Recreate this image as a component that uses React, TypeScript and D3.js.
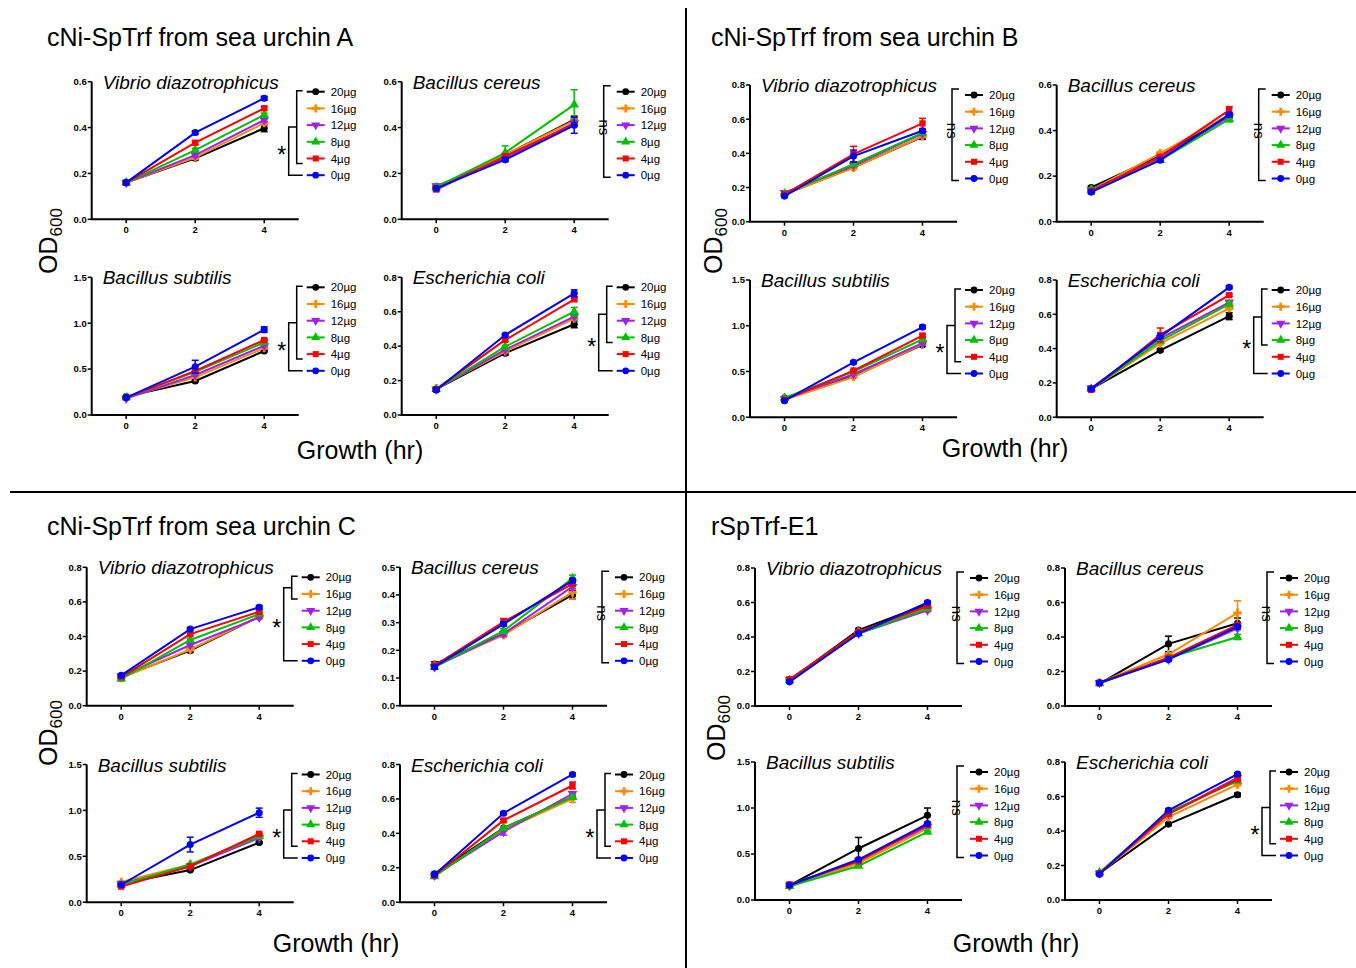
import React from "react";
import * as d3 from "d3";

// ---------- data ----------
const doses = ["20µg", "16µg", "12µg", "8µg", "4µg", "0µg"];
const hours = [0, 2, 4];
const xTickValues = [0, 2, 4];
const bacteria = ["Vibrio diazotrophicus", "Bacillus cereus", "Bacillus subtilis", "Escherichia coli"];
const quadrantTitles = ["cNi-SpTrf from sea urchin A", "cNi-SpTrf from sea urchin B", "cNi-SpTrf from sea urchin C", "rSpTrf-E1"];

// rows: 20,16,12,8,4,0 µg ; columns: 0h, 2h, 4h
const A_vibrio = [[0.16, 0.266, 0.397], [0.16, 0.27, 0.42], [0.16, 0.28, 0.433], [0.16, 0.302, 0.455], [0.16, 0.334, 0.484], [0.16, 0.378, 0.528]];
const A_cereus = [[0.14, 0.28, 0.435], [0.14, 0.28, 0.43], [0.145, 0.265, 0.42], [0.14, 0.29, 0.5], [0.13, 0.275, 0.415], [0.135, 0.26, 0.41]];
const A_subtilis = [[0.2, 0.37, 0.697], [0.19, 0.41, 0.73], [0.18, 0.436, 0.755], [0.19, 0.47, 0.79], [0.19, 0.48, 0.817], [0.19, 0.526, 0.93]];
const A_coli = [[0.15, 0.359, 0.527], [0.155, 0.37, 0.56], [0.15, 0.38, 0.572], [0.15, 0.397, 0.6], [0.15, 0.436, 0.672], [0.145, 0.465, 0.707]];

const B_vibrio = [[0.16, 0.318, 0.497], [0.16, 0.315, 0.5], [0.17, 0.33, 0.515], [0.165, 0.337, 0.52], [0.16, 0.396, 0.575], [0.15, 0.384, 0.532]];
const B_cereus = [[0.15, 0.29, 0.465], [0.14, 0.3, 0.47], [0.14, 0.28, 0.46], [0.14, 0.27, 0.45], [0.135, 0.285, 0.49], [0.13, 0.27, 0.47]];
const B_subtilis = [[0.21, 0.45, 0.79], [0.19, 0.44, 0.8], [0.2, 0.47, 0.81], [0.21, 0.5, 0.85], [0.19, 0.51, 0.893], [0.18, 0.6, 0.985]];
const B_coli = [[0.165, 0.39, 0.589], [0.165, 0.43, 0.635], [0.17, 0.46, 0.67], [0.165, 0.445, 0.66], [0.16, 0.48, 0.712], [0.165, 0.47, 0.757]];

const C_vibrio = [[0.165, 0.318, 0.515], [0.16, 0.325, 0.515], [0.17, 0.351, 0.51], [0.155, 0.38, 0.53], [0.165, 0.414, 0.543], [0.175, 0.443, 0.569]];
const C_cereus = [[0.15, 0.26, 0.4], [0.145, 0.255, 0.41], [0.14, 0.26, 0.43], [0.14, 0.27, 0.46], [0.145, 0.303, 0.44], [0.14, 0.295, 0.452]];
const C_subtilis = [[0.2, 0.35, 0.65], [0.22, 0.41, 0.72], [0.2, 0.39, 0.7], [0.19, 0.41, 0.72], [0.17, 0.39, 0.745], [0.19, 0.628, 0.975]];
const C_coli = [[0.165, 0.43, 0.61], [0.155, 0.42, 0.6], [0.155, 0.41, 0.63], [0.15, 0.43, 0.61], [0.155, 0.475, 0.678], [0.16, 0.517, 0.742]];

const D_vibrio = [[0.15, 0.44, 0.59], [0.15, 0.43, 0.575], [0.15, 0.42, 0.555], [0.15, 0.42, 0.565], [0.155, 0.43, 0.58], [0.14, 0.42, 0.6]];
const D_cereus = [[0.13, 0.36, 0.48], [0.135, 0.3, 0.54], [0.135, 0.27, 0.45], [0.13, 0.28, 0.4], [0.135, 0.28, 0.47], [0.135, 0.27, 0.46]];
const D_subtilis = [[0.16, 0.56, 0.92], [0.15, 0.4, 0.78], [0.16, 0.43, 0.8], [0.15, 0.37, 0.74], [0.17, 0.42, 0.82], [0.16, 0.44, 0.83]];
const D_coli = [[0.155, 0.44, 0.61], [0.155, 0.48, 0.67], [0.155, 0.5, 0.71], [0.16, 0.51, 0.69], [0.155, 0.5, 0.7], [0.15, 0.52, 0.73]];

// visible error bars: [dose index, time index, SEM]
const baseError = 0.008;
const A_vibrio_err = [[0, 2, 0.015]];
const A_cereus_err = [[3, 1, 0.03], [3, 2, 0.065], [5, 2, 0.035], [0, 2, 0.015]];
const A_subtilis_err = [[5, 1, 0.07], [5, 2, 0.03]];
const A_coli_err = [[5, 2, 0.02], [3, 2, 0.025], [0, 2, 0.02], [0, 1, 0.012]];
const B_vibrio_err = [[4, 1, 0.045], [4, 2, 0.03], [5, 1, 0.035], [0, 2, 0.015]];
const B_cereus_err = [[4, 2, 0.015], [3, 2, 0.012]];
const B_subtilis_err = [[5, 2, 0.02], [5, 1, 0.015], [4, 2, 0.015]];
const B_coli_err = [[4, 1, 0.04], [0, 2, 0.02], [3, 2, 0.012]];
const C_vibrio_err = [[5, 2, 0.01]];
const C_cereus_err = [[1, 2, 0.025], [0, 2, 0.015], [3, 2, 0.012], [4, 1, 0.012]];
const C_subtilis_err = [[5, 1, 0.08], [5, 2, 0.05]];
const C_coli_err = [[4, 2, 0.02], [1, 2, 0.02], [2, 1, 0.02]];
const D_vibrio_err: number[][] = [];
const D_cereus_err = [[0, 1, 0.045], [1, 2, 0.07], [0, 2, 0.03], [3, 2, 0.015]];
const D_subtilis_err = [[0, 1, 0.12], [0, 2, 0.08]];
const D_coli_err = [[3, 1, 0.02], [0, 2, 0.01]];

// y-axis maxima and tick steps
const yMaxes = [[0.6, 0.6, 1.5, 0.8], [0.8, 0.6, 1.5, 0.8], [0.8, 0.5, 1.5, 0.8], [0.8, 0.8, 1.5, 0.8]];
const ySteps = [[0.2, 0.2, 0.5, 0.2], [0.2, 0.2, 0.5, 0.2], [0.2, 0.1, 0.5, 0.2], [0.2, 0.2, 0.5, 0.2]];
// significance: "ns" or index of last dose in the compared group (vs 0µg)
const significance: (string | number)[][] = [[4, "ns", 4, 3], ["ns", "ns", 4, 3], [1, "ns", 4, 4], ["ns", "ns", "ns", 4]];

const allValues = [[A_vibrio, A_cereus, A_subtilis, A_coli], [B_vibrio, B_cereus, B_subtilis, B_coli], [C_vibrio, C_cereus, C_subtilis, C_coli], [D_vibrio, D_cereus, D_subtilis, D_coli]];
const allErrors = [[A_vibrio_err, A_cereus_err, A_subtilis_err, A_coli_err], [B_vibrio_err, B_cereus_err, B_subtilis_err, B_coli_err], [C_vibrio_err, C_cereus_err, C_subtilis_err, C_coli_err], [D_vibrio_err, D_cereus_err, D_subtilis_err, D_coli_err]];

// ---------- styles / layout ----------
const colors = ["#000000", "#FF8A00", "#A020F0", "#00C000", "#FF0000", "#0000FF"];
const symbols = [d3.symbolCircle, d3.symbolCross, d3.symbolTriangle, d3.symbolTriangle, d3.symbolSquare, d3.symbolCircle];
const symbolRot = [0, 0, 180, 0, 0, 0];
const FONT = "'Liberation Sans', Arial, Helvetica, sans-serif";

const quadLayout = [
  { cols: [91.7, 401.7], rows: [[81.7, 219.3], [277.3, 415]], title: [47, 46], od: [57, 241], growth: [360, 459] },
  { cols: [750, 1056.7], rows: [[85, 221.7], [280, 417.2]], title: [711, 46], od: [722, 241], growth: [1005, 457] },
  { cols: [86.7, 400], rows: [[567.3, 705.7], [764.5, 902.2]], title: [47, 535], od: [57, 733], growth: [336, 952] },
  { cols: [755, 1065], rows: [[568, 706], [762, 900]], title: [711, 535], od: [725, 728], growth: [1016, 952] },
];

function SubPlot({ q, k }: { q: number; k: number }) {
  const L = quadLayout[q];
  const x0 = L.cols[k % 2];
  const [top, bottom] = L.rows[Math.floor(k / 2)];
  const values = allValues[q][k];
  const errs = allErrors[q][k];
  const yMax = yMaxes[q][k];
  const step = ySteps[q][k];
  const sig = significance[q][k];

  const xs = d3.scaleLinear().domain([-1, 5]).range([x0, x0 + 207]);
  const ys = d3.scaleLinear().domain([0, yMax]).range([bottom, top]);
  const yTicks = d3.range(0, yMax + 1e-9, step);
  const fmt = d3.format(".1f");
  const line = d3.line<number>().x((_, i) => xs(hours[i])).y((v) => ys(v));
  const errOf = (s: number, t: number) => {
    const e = errs.find((r) => r[0] === s && r[1] === t);
    return e ? e[2] : baseError;
  };

  const rowY = (i: number) => top + 10 + i * 16.7;
  const legX1 = x0 + 215;
  const legX2 = x0 + 233;

  const sym = (i: number, size: number) => d3.symbol().type(symbols[i]).size(size)() as string;

  let sigEls: React.ReactNode = null;
  if (sig === "ns") {
    const bx = x0 + 202;
    const y1 = rowY(0) - 6;
    const y2 = rowY(5) + 2;
    sigEls = (
      <g>
        <path d={`M${x0 + 209},${y1}H${bx}V${y2}H${x0 + 209}`} fill="none" stroke="#000" strokeWidth={1.5} />
        <text transform={`translate(${bx - 5},${(y1 + y2) / 2 - 4}) rotate(90)`} textAnchor="middle" fontSize={15} fontFamily={FONT}>ns</text>
      </g>
    );
  } else {
    const kk = sig as number;
    const x1 = x0 + 205;
    const arm = x0 + 211;
    const t1 = rowY(0) - 1;
    const b1 = rowY(kk) + 5;
    const x2 = x1 - 8;
    const mid = (t1 + b1) / 2;
    const b2 = rowY(5);
    sigEls = (
      <g>
        <path d={`M${arm},${t1}H${x1}V${b1}H${arm}`} fill="none" stroke="#000" strokeWidth={1.5} />
        <path d={`M${x1},${mid}H${x2}V${b2}H${arm}`} fill="none" stroke="#000" strokeWidth={1.5} />
        <text x={x2 - 7} y={(mid + b2) / 2 + 12} textAnchor="middle" fontSize={23} fontFamily={FONT}>*</text>
      </g>
    );
  }

  return (
    <g>
      {/* title */}
      <text x={x0 + 11} y={top + 7} fontSize={19} fontStyle="italic" fontFamily={FONT}>{bacteria[k]}</text>
      {/* axes */}
      <path d={`M${x0},${top}V${bottom}H${x0 + 207}`} fill="none" stroke="#000" strokeWidth={2} />
      {yTicks.map((t) => (
        <g key={"y" + t}>
          <line x1={x0 - 4} x2={x0} y1={ys(t)} y2={ys(t)} stroke="#000" strokeWidth={1.5} />
          <text x={x0 - 5} y={ys(t)} dy="0.35em" textAnchor="end" fontSize={9.5} fontWeight="bold" fontFamily={FONT}>{fmt(t)}</text>
        </g>
      ))}
      {xTickValues.map((t) => (
        <g key={"x" + t}>
          <line x1={xs(t)} x2={xs(t)} y1={bottom} y2={bottom + 4} stroke="#000" strokeWidth={1.5} />
          <text x={xs(t)} y={bottom + 14} textAnchor="middle" fontSize={9.5} fontWeight="bold" fontFamily={FONT}>{t}</text>
        </g>
      ))}
      {/* series */}
      {values.map((ser, s) => (
        <g key={"s" + s}>
          {ser.map((v, t) => {
            const e = errOf(s, t);
            const xx = xs(hours[t]);
            return (
              <g key={t}>
                <line x1={xx} x2={xx} y1={ys(v - e)} y2={ys(v + e)} stroke={colors[s]} strokeWidth={1.5} />
                <line x1={xx - 3.5} x2={xx + 3.5} y1={ys(v + e)} y2={ys(v + e)} stroke={colors[s]} strokeWidth={1.5} />
                <line x1={xx - 3.5} x2={xx + 3.5} y1={ys(v - e)} y2={ys(v - e)} stroke={colors[s]} strokeWidth={1.5} />
              </g>
            );
          })}
          <path d={line(ser) as string} fill="none" stroke={colors[s]} strokeWidth={2} />
          {ser.map((v, t) => (
            <path key={"m" + t} d={sym(s, 40)} transform={`translate(${xs(hours[t])},${ys(v)}) rotate(${symbolRot[s]})`} fill={colors[s]} />
          ))}
        </g>
      ))}
      {/* legend */}
      {doses.map((d, i) => (
        <g key={d}>
          <line x1={legX1} x2={legX2} y1={rowY(i)} y2={rowY(i)} stroke={colors[i]} strokeWidth={2} />
          <path d={sym(i, 36)} transform={`translate(${(legX1 + legX2) / 2},${rowY(i)}) rotate(${symbolRot[i]})`} fill={colors[i]} />
          <text x={x0 + 239} y={rowY(i)} dy="0.36em" fontSize={11.5} fontFamily={FONT}>{d}</text>
        </g>
      ))}
      {sigEls}
    </g>
  );
}

function Quadrant({ q }: { q: number }) {
  const L = quadLayout[q];
  return (
    <g>
      <text x={L.title[0]} y={L.title[1]} fontSize={25} fontFamily={FONT}>{quadrantTitles[q]}</text>
      <text transform={`translate(${L.od[0]},${L.od[1]}) rotate(-90)`} textAnchor="middle" fontSize={25} fontFamily={FONT}>
        OD<tspan fontSize={17} dy={5}>600</tspan>
      </text>
      <text x={L.growth[0]} y={L.growth[1]} textAnchor="middle" fontSize={25} fontFamily={FONT}>Growth (hr)</text>
      {[0, 1, 2, 3].map((k) => <SubPlot key={k} q={q} k={k} />)}
    </g>
  );
}

export default function App() {
  return (
    <svg width={1356} height={968} style={{ position: "absolute", left: 0, top: 0, background: "#fff" }}>
      <rect width={1356} height={968} fill="#fff" />
      <line x1={686} x2={686} y1={8} y2={968} stroke="#000" strokeWidth={2} />
      <line x1={10} x2={1356} y1={492} y2={492} stroke="#000" strokeWidth={2} />
      {[0, 1, 2, 3].map((q) => <Quadrant key={q} q={q} />)}
    </svg>
  );
}
